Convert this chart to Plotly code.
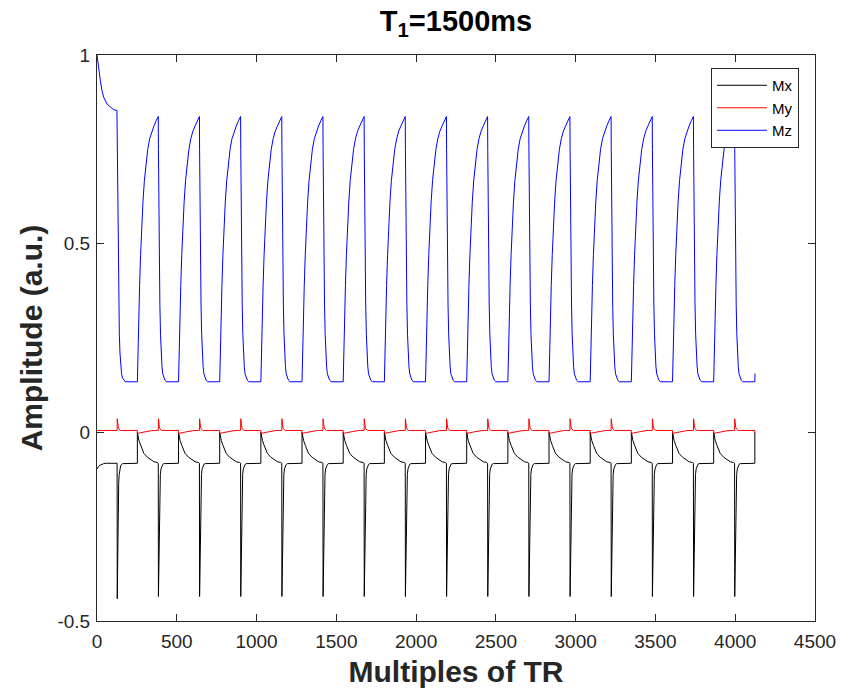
import plotly.graph_objects as go

# Saturation pulse times and end of the sequence (multiples of TR)
pulse_tr = [126, 384, 642, 900, 1158, 1416, 1674, 1932, 2190, 2448,
            2706, 2964, 3222, 3480, 3738, 3996]
recovery_delay = 127          # TRs from a pulse to the start of free recovery
end_tr = 4124

# Mz: initial approach to steady state, fall after a pulse, recovery
mz_start_tr = [0, 10, 21, 31, 42, 63, 84, 104, 125]
mz_start = [1.0, 0.963, 0.932, 0.906, 0.888, 0.870, 0.861, 0.855, 0.853]
mz_fall_dt = [1, 3, 6, 10, 14, 18, 23, 28, 34, 42, 50]
mz_fall = [0.75, 0.62, 0.47, 0.34, 0.26, 0.21, 0.175, 0.155, 0.144, 0.138, 0.135]
mz_floor = 0.134
mz_rise_dt = [0, 1, 2, 5, 9, 14, 20, 27, 35, 44, 54, 65, 77, 90, 104, 118, 131]
mz_rise = [0.134, 0.156, 0.178, 0.239, 0.311, 0.389, 0.468, 0.543, 0.610,
           0.667, 0.714, 0.750, 0.778, 0.798, 0.812, 0.826, 0.837]

# Mx: initial level, spike at each pulse, decay after recovery start
mx_start_tr = [0, 5, 10, 20, 30, 42, 60]
mx_start = [-0.097, -0.093, -0.090, -0.087, -0.085, -0.083, -0.082]
mx_floor = -0.082
mx_spike_depth = [-0.441, -0.435, -0.435, -0.435, -0.435, -0.435, -0.435, -0.435,
                  -0.435, -0.435, -0.435, -0.435, -0.435, -0.435, -0.435, -0.435]
mx_tail_dt = [2, 3, 5, 7, 10, 13, 17, 22, 28, 35]
mx_tail = [-0.40, -0.33, -0.24, -0.18, -0.135, -0.112, -0.097, -0.089, -0.085, -0.083]
mx_decay_dt = [4, 10, 21, 31, 41, 63, 84, 104, 125]
mx_decay = [-0.009, -0.022, -0.035, -0.047, -0.056, -0.066, -0.073, -0.078, -0.080]

# My: baseline, spike at each pulse, dip and slow return after recovery start
my_base = 0.005
my_spike_dt = [1, 2, 4, 7, 11, 16, 22]
my_spike = [0.036, 0.030, 0.022, 0.014, 0.009, 0.006, 0.005]
my_dip = -0.003
my_recover_dt = [20, 42, 63, 90, 110]
my_recover = [-0.001, 0.001, 0.003, 0.0045, 0.005]


def build_mz():
    x, y = list(mz_start_tr), list(mz_start)
    for p in pulse_tr:
        r = p + recovery_delay
        x += [p + d for d in mz_fall_dt]
        y += mz_fall
        x += [p + mz_fall_dt[-1] + 1]
        y += [mz_floor]
        x += [r + d for d in mz_rise_dt]
        y += mz_rise
    return x, y


def build_mx():
    x, y = list(mx_start_tr), list(mx_start)
    for p, depth in zip(pulse_tr, mx_spike_depth):
        r = p + recovery_delay
        x += [p, p + 1] + [p + d for d in mx_tail_dt]
        y += [mx_floor, depth] + mx_tail
        x += [r, r] + [r + d for d in mx_decay_dt]
        y += [mx_floor, 0.0] + mx_decay
    return x, y


def build_my():
    x, y = [0], [my_base]
    for p in pulse_tr:
        r = p + recovery_delay
        x += [p] + [p + d for d in my_spike_dt]
        y += [my_base] + my_spike
        x += [r, r] + [r + d for d in my_recover_dt]
        y += [my_base, my_dip] + my_recover
    return x, y


def clip(x, y):
    pts = [(a, b) for a, b in zip(x, y) if a <= end_tr]
    return [a for a, _ in pts], [b for _, b in pts]


font_family = "Liberation Sans, Arial, Helvetica, sans-serif"
axis_color = "#262626"

fig = go.Figure()
series = [("Mx", build_mx, "#000000"),
          ("My", build_my, "#ff0000"),
          ("Mz", build_mz, "#0000ff")]
for name, builder, color in series:
    xs, ys = clip(*builder())
    fig.add_trace(go.Scatter(x=xs, y=ys, mode="lines", name=name,
                             line=dict(color=color, width=1)))

axis_common = dict(
    showgrid=False, zeroline=False, showline=True, linecolor=axis_color,
    linewidth=1, mirror="allticks", ticks="inside", ticklen=7, automargin=False,
    tickcolor=axis_color, tickfont=dict(family=font_family, size=19, color=axis_color),
)

fig.update_layout(
    width=859, height=691,
    margin=dict(l=97, r=44, t=55, b=70),
    paper_bgcolor="white", plot_bgcolor="white",
    font=dict(family=font_family, color=axis_color),
    title=dict(text="<b>T<sub>1</sub>=1500ms</b>", x=0.5, xref="paper",
               y=1 - 21 / 691, yref="container", yanchor="middle",
               font=dict(family=font_family, size=29, color="#000000")),
    xaxis=dict(range=[0, 4500], tickvals=[0, 500, 1000, 1500, 2000, 2500, 3000, 3500, 4000, 4500],
               ticklabelstandoff=3,
               title=dict(text="<b>Multiples of TR</b>", standoff=10,
                          font=dict(family=font_family, size=30, color=axis_color)),
               **axis_common),
    yaxis=dict(range=[-0.5, 1], tickvals=[-0.5, 0, 0.5, 1], ticktext=["-0.5", "0", "0.5", "1"],
               ticklabelstandoff=2,
               title=dict(text="<b>Amplitude (a.u.)</b>", standoff=5,
                          font=dict(family=font_family, size=30, color=axis_color)),
               **axis_common),
    legend=dict(x=0.9777, y=0.977, xanchor="right", yanchor="top",
                bgcolor="white", bordercolor=axis_color, borderwidth=1,
                font=dict(family=font_family, size=15, color="#000000"),
                itemwidth=50, tracegroupgap=0),
    showlegend=True,
)

fig.write_html("out.html")
